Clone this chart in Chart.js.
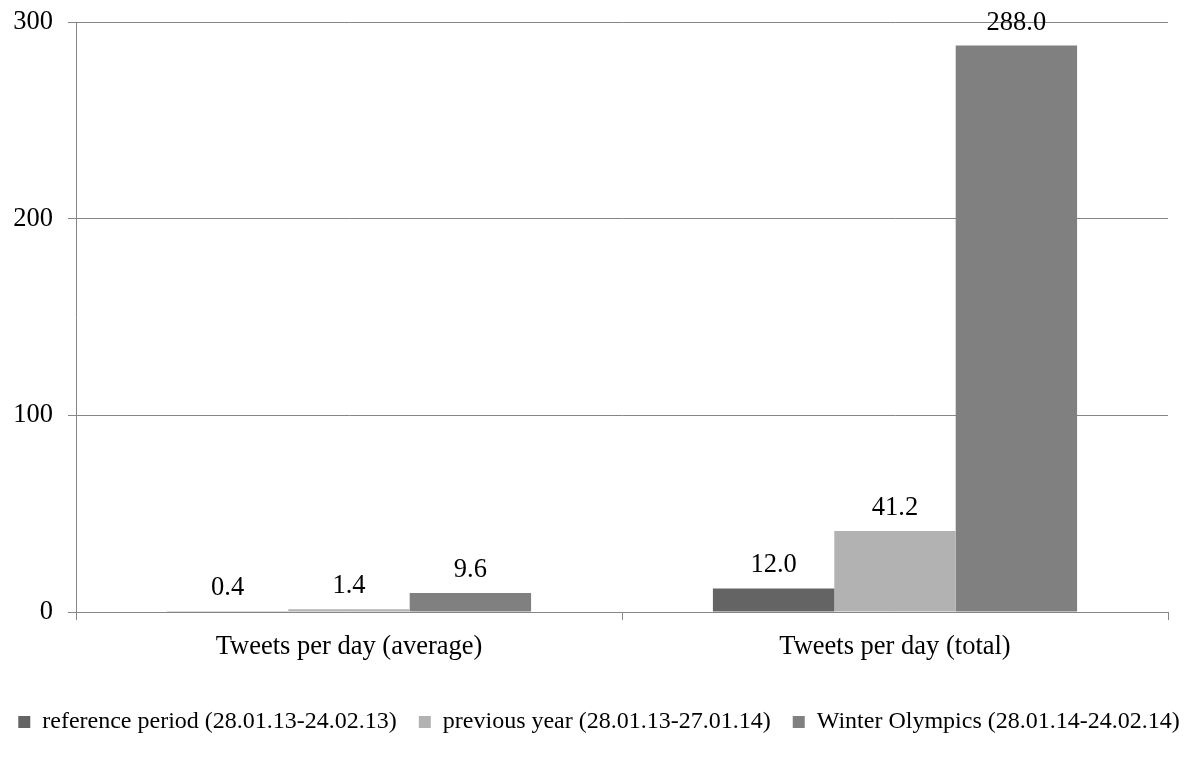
<!DOCTYPE html>
<html>
<head>
    <title>Tweets per day</title>
    <script src="https://cdn.jsdelivr.net/npm/chart.js"></script>
    <style>
        html, body { margin: 0; padding: 0; background: #fff; }
        #wrap { width: 1187px; height: 761px; }
    </style>
</head>
<body>
    <div id="wrap"><canvas id="chart"></canvas></div>

    <script>
        // Chart data
        const categories = ['Tweets per day (average)', 'Tweets per day (total)'];
        const referencePeriod = [0.4, 12.0];
        const previousYear = [1.4, 41.2];
        const winterOlympics = [9.6, 288.0];
        const seriesNames = [
            'reference period (28.01.13-24.02.13)',
            'previous year (28.01.13-27.01.14)',
            'Winter Olympics (28.01.14-24.02.14)'
        ];
        const yTicks = [0, 100, 200, 300];

        const fontFamily = '"Liberation Serif", "Times New Roman", serif';
        const gridColor = '#868686';

        // draws the value above each bar
        const valueLabels = {
            id: 'valueLabels',
            afterDatasetsDraw(chart) {
                const ctx = chart.ctx;
                ctx.save();
                ctx.font = '26.5px ' + fontFamily;
                ctx.fillStyle = '#000';
                ctx.textAlign = 'center';
                ctx.textBaseline = 'alphabetic';
                chart.data.datasets.forEach((ds, i) => {
                    chart.getDatasetMeta(i).data.forEach((bar, j) => {
                        ctx.fillText(ds.data[j].toFixed(1), bar.x, bar.y - 16);
                    });
                });
                ctx.restore();
            }
        };

        // one wide legend row across the whole canvas, and a short legend box
        const legendLayout = {
            id: 'legendLayout',
            beforeInit(chart) {
                const fit = chart.legend.fit;
                chart.legend.fit = function () {
                    this.maxWidth = 1400;
                    fit.call(this);
                    this.height = 60;
                };
            },
            afterLayout(chart) {
                // widen the box a bit past the canvas so the last item doesn't wrap
                chart.legend.left = -22;
                chart.legend.right = 1220;
            }
        };

        new Chart(document.getElementById('chart'), {
            type: 'bar',
            data: {
                labels: categories,
                datasets: [
                    { label: seriesNames[0], data: referencePeriod, backgroundColor: '#646464' },
                    { label: seriesNames[1], data: previousYear, backgroundColor: '#b2b2b2' },
                    { label: seriesNames[2], data: winterOlympics, backgroundColor: '#808080' }
                ]
            },
            options: {
                responsive: true,
                maintainAspectRatio: false,
                animation: false,
                layout: { padding: { top: 22, right: 19, bottom: 13, left: 0 } },
                datasets: { bar: { barPercentage: 1, categoryPercentage: 0.667, borderWidth: 0 } },
                plugins: {
                    tooltip: { enabled: false },
                    legend: {
                        position: 'bottom',
                        labels: {
                            color: '#000',
                            font: { family: fontFamily, size: 24 },
                            boxWidth: 12,
                            boxHeight: 12,
                            padding: 22
                        }
                    }
                },
                scales: {
                    x: {
                        grid: { offset: true, drawOnChartArea: false, tickLength: 8, color: gridColor },
                        border: { color: gridColor },
                        ticks: { color: '#000', padding: 11, font: { family: fontFamily, size: 26.5 } },
                        afterFit(axis) { axis.height = 76; axis.paddingLeft = 0; axis.paddingRight = 0; }
                    },
                    y: {
                        min: 0,
                        max: 300,
                        afterBuildTicks(axis) { axis.ticks = yTicks.map(v => ({ value: v })); },
                        grid: { tickLength: 8, color: gridColor },
                        border: { color: gridColor },
                        ticks: { color: '#000', padding: 15, font: { family: fontFamily, size: 26.5 } },
                        afterFit(axis) { axis.width = 76; axis.paddingTop = 0; axis.paddingBottom = 0; }
                    }
                }
            },
            plugins: [valueLabels, legendLayout]
        });
    </script>
</body>
</html>
